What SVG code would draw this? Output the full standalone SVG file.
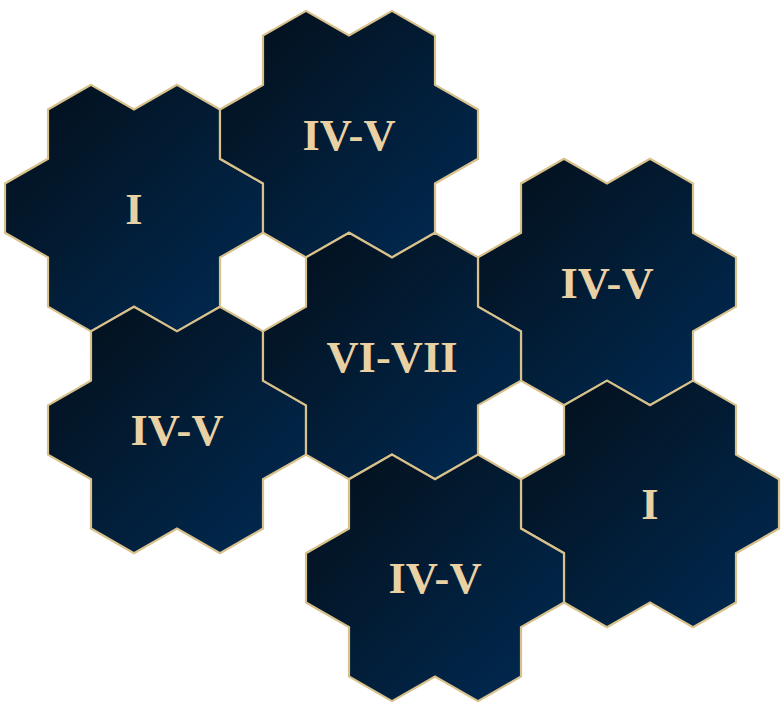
<svg xmlns="http://www.w3.org/2000/svg" xmlns:xlink="http://www.w3.org/1999/xlink" width="783" height="702" viewBox="0 0 783 702">
  <defs>
    <linearGradient id="navy" x1="0" y1="0" x2="1" y2="1">
      <stop offset="0" stop-color="#020e19"/>
      <stop offset="0.3" stop-color="#03172a"/>
      <stop offset="1" stop-color="#002b55"/>
    </linearGradient>
    <polygon id="cluster" points="-43,-123.25 0,-98.6 43,-123.25 86,-98.6 86,-49.3 129,-24.65 129,24.65 86,49.3 86,98.6 43,123.25 0,98.6 -43,123.25 -86,98.6 -86,49.3 -129,24.65 -129,-24.65 -86,-49.3 -86,-98.6"/>
  </defs>
  <style>
    .shape { fill: url(#navy); stroke: #d9c18c; stroke-width: 2.2; stroke-linejoin: miter; }
    .label { font-family: "Liberation Serif", "Times New Roman", serif; font-weight: bold; font-size: 44.5px; fill: #ead1a4; text-anchor: middle; }
  </style>
  <rect width="783" height="702" fill="#ffffff"/>
  <g id="connectors"></g>
  <g id="node-i-left" transform="translate(134,208.1)">
    <use xlink:href="#cluster" href="#cluster" class="shape"/>
    <text class="label" x="0" y="15.5">I</text>
  </g>
  <g id="node-iv-v-top" transform="translate(349,134.15)">
    <use xlink:href="#cluster" href="#cluster" class="shape"/>
    <text class="label" x="0" y="15.5">IV-V</text>
  </g>
  <g id="node-iv-v-right" transform="translate(607,282.05)">
    <use xlink:href="#cluster" href="#cluster" class="shape"/>
    <text class="label" x="0" y="15.5">IV-V</text>
  </g>
  <g id="node-iv-v-left" transform="translate(177,429.95)">
    <use xlink:href="#cluster" href="#cluster" class="shape"/>
    <text class="label" x="0" y="15.5">IV-V</text>
  </g>
  <g id="node-vi-vii" transform="translate(392,356)">
    <use xlink:href="#cluster" href="#cluster" class="shape"/>
    <text class="label" x="0" y="15.5">VI-VII</text>
  </g>
  <g id="node-i-right" transform="translate(650,503.9)">
    <use xlink:href="#cluster" href="#cluster" class="shape"/>
    <text class="label" x="0" y="15.5">I</text>
  </g>
  <g id="node-iv-v-bottom" transform="translate(435,577.85)">
    <use xlink:href="#cluster" href="#cluster" class="shape"/>
    <text class="label" x="0" y="15.5">IV-V</text>
  </g>
</svg>
